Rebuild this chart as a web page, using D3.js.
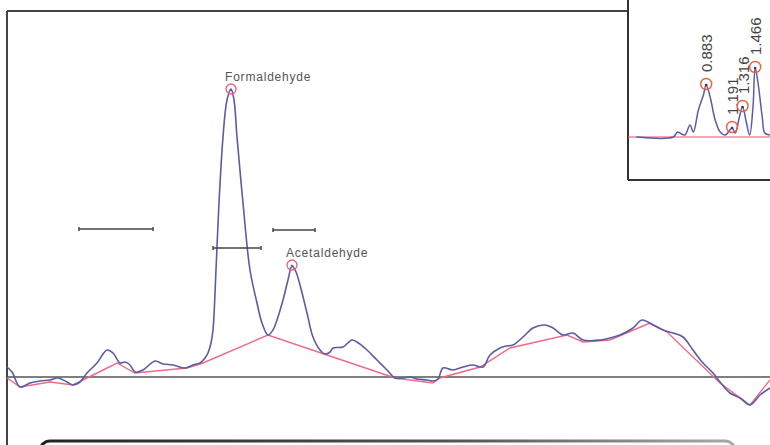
<!DOCTYPE html>
<html>
<head>
<meta charset="utf-8">
<script src="https://cdn.jsdelivr.net/npm/d3@7"></script>
<style>
  body { margin: 0; background: #fff; }
  svg { display: block; font-family: Arial, "Liberation Sans", sans-serif; }
</style>
</head>
<body>
<div id="chart"></div>
<script>
// main chromatogram: time (min) / signal (mAU)
const traceTime = [0.00, 0.05, 0.13, 0.23, 0.33, 0.43, 0.51, 0.60, 0.66, 0.73, 0.80, 0.90, 1.00, 1.06, 1.13, 1.18, 1.23, 1.28, 1.36, 1.48, 1.56, 1.66, 1.78, 1.86, 1.93, 1.98, 2.01, 2.04, 2.06, 2.09, 2.12, 2.16, 2.20, 2.24, 2.27, 2.30, 2.36, 2.43, 2.50, 2.55, 2.61, 2.66, 2.70, 2.76, 2.81, 2.85, 2.89, 2.93, 3.00, 3.06, 3.13, 3.18, 3.23, 3.26, 3.36, 3.45, 3.50, 3.60, 3.70, 3.80, 3.88, 3.96, 4.03, 4.10, 4.20, 4.26, 4.31, 4.36, 4.46, 4.56, 4.66, 4.76, 4.83, 4.93, 4.99, 5.06, 5.16, 5.26, 5.38, 5.46, 5.56, 5.66, 5.76, 5.93, 6.03, 6.13, 6.26, 6.35, 6.46, 6.56, 6.66, 6.76, 6.86, 6.96, 7.06, 7.13, 7.23, 7.33, 7.43, 7.53, 7.63];
const traceSignal = [1.0, 0.5, -1.0, -0.6, -0.4, -0.3, -0.1, -0.5, -0.8, -0.5, 0.4, 1.4, 2.7, 2.4, 1.4, 1.5, 1.2, 0.5, 0.7, 1.6, 1.3, 1.2, 0.9, 1.2, 1.4, 1.9, 2.4, 3.4, 4.7, 10.7, 17.4, 24.0, 27.7, 28.8, 27.7, 24.0, 17.4, 10.7, 7.4, 5.4, 4.2, 4.7, 5.7, 7.7, 9.7, 11.1, 10.5, 9.2, 6.4, 4.0, 2.7, 2.3, 2.5, 2.9, 3.0, 3.7, 3.5, 2.7, 1.7, 0.7, -0.1, -0.1, 0.0, -0.2, -0.3, -0.4, -0.2, 0.9, 0.7, 1.0, 1.2, 1.0, 2.2, 2.9, 3.1, 3.2, 4.0, 4.9, 5.2, 4.9, 4.2, 4.4, 3.7, 3.7, 3.9, 4.2, 4.9, 5.7, 5.2, 4.7, 4.4, 4.0, 2.7, 1.4, 0.4, -0.5, -1.6, -2.1, -2.8, -1.8, -1.1];

// integration baseline drawn by the software
const baseTime = [0.00, 0.13, 0.43, 0.66, 0.80, 1.10, 1.28, 1.80, 1.96, 2.61, 3.20, 3.88, 4.26, 4.33, 4.73, 5.03, 5.60, 5.76, 6.03, 6.43, 6.60, 7.13, 7.43, 7.63];
const baseSignal = [-0.1, -1.0, -0.5, -0.8, -0.1, 1.4, 0.4, 0.9, 1.4, 4.2, 2.2, -0.1, -0.6, -0.1, 1.0, 2.9, 4.2, 3.5, 3.7, 5.4, 4.5, -0.6, -2.8, -0.3];

const peakNames = ["Formaldehyde", "Acetaldehyde"];
const peakTimes = [2.24, 2.85];
const peakHeights = [28.8, 11.2];

// peak windows (start, end, level)
const windowStart = [0.72, 2.06, 2.66];
const windowEnd = [1.46, 2.54, 3.08];
const windowLevel = [14.8, 12.9, 14.7];

// inset chromatogram
const insetTime = [0.05, 0.49, 0.54, 0.57, 0.63, 0.69, 0.73, 0.79, 0.85, 0.883, 0.93, 0.99, 1.05, 1.11, 1.191, 1.23, 1.27, 1.316, 1.36, 1.40, 1.44, 1.466, 1.50, 1.55, 1.58, 1.64];
const insetSignal = [0, 0, 5, 4, 2, 12, 5, 27, 42, 52, 40, 17, 5, 2, 9, 4, 17, 30, 15, 2, 30, 69, 54, 20, 4, 2];
const insetPeakTimes = [0.883, 1.191, 1.316, 1.466];
const insetPeakHeights = [52, 9, 30, 69];
const insetPeakLabels = ["0.883", "1.191", "1.316", "1.466"];

const width = 770;
const height = 445;
const traceColor = "#5b5ba6";
const baseColor = "#ef6a86";
const frameColor = "#444";

const svg = d3.select("#chart").append("svg")
  .attr("width", width)
  .attr("height", height);

const x = d3.scaleLinear().domain([0, 7.63]).range([7, 770]);
const y = d3.scaleLinear().domain([-6.8, 37.7]).range([445, 0]);

const defs = svg.append("defs");
const grad = defs.append("linearGradient").attr("id", "barGrad");
grad.append("stop").attr("offset", "0%").attr("stop-color", "#222");
grad.append("stop").attr("offset", "60%").attr("stop-color", "#555");
grad.append("stop").attr("offset", "100%").attr("stop-color", "#aaa");

// bottom panel edge
svg.append("rect")
  .attr("x", 40).attr("y", 441)
  .attr("width", 695).attr("height", 30)
  .attr("rx", 10)
  .attr("fill", "#fff")
  .attr("stroke", "url(#barGrad)")
  .attr("stroke-width", 3);

// frame
svg.append("line")
  .attr("x1", 7).attr("x2", 7).attr("y1", 11).attr("y2", height)
  .attr("stroke", frameColor).attr("stroke-width", 2);
svg.append("line")
  .attr("x1", 7).attr("x2", 628).attr("y1", 11).attr("y2", 11)
  .attr("stroke", frameColor).attr("stroke-width", 2);

// zero line
svg.append("line")
  .attr("x1", x(0)).attr("x2", x(7.63))
  .attr("y1", y(0)).attr("y2", y(0))
  .attr("stroke", "#555").attr("stroke-width", 1.5);

const baseData = baseTime.map((t, i) => ({ t, v: baseSignal[i] }));
const traceData = traceTime.map((t, i) => ({ t, v: traceSignal[i] }));

svg.append("path")
  .datum(baseData)
  .attr("fill", "none")
  .attr("stroke", baseColor)
  .attr("stroke-width", 1.4)
  .attr("d", d3.line().x(d => x(d.t)).y(d => y(d.v)));

svg.append("path")
  .datum(traceData)
  .attr("fill", "none")
  .attr("stroke", traceColor)
  .attr("stroke-width", 1.6)
  .attr("d", d3.line().curve(d3.curveCatmullRom).x(d => x(d.t)).y(d => y(d.v)));

// peak windows
windowStart.forEach((s, i) => {
  const g = svg.append("g").attr("stroke", "#444").attr("stroke-width", 1.5);
  g.append("line")
    .attr("x1", x(s)).attr("x2", x(windowEnd[i]))
    .attr("y1", y(windowLevel[i])).attr("y2", y(windowLevel[i]));
  [s, windowEnd[i]].forEach(e => {
    g.append("line")
      .attr("x1", x(e)).attr("x2", x(e))
      .attr("y1", y(windowLevel[i]) - 2).attr("y2", y(windowLevel[i]) + 2);
  });
});

// peak markers
peakNames.forEach((name, i) => {
  const px = x(peakTimes[i]);
  const py = y(peakHeights[i]);
  svg.append("circle")
    .attr("cx", px).attr("cy", py).attr("r", 5)
    .attr("fill", "none").attr("stroke", "#e8607a").attr("stroke-width", 1.3);
  svg.append("circle")
    .attr("cx", px).attr("cy", py + 1).attr("r", 1.3)
    .attr("fill", traceColor);
  svg.append("text")
    .attr("x", px - 6).attr("y", py - 8)
    .attr("font-size", 12)
    .attr("letter-spacing", 0.8)
    .attr("fill", "#555")
    .text(name);
});

// inset
const ix = d3.scaleLinear().domain([0, 1.64]).range([632, 769.8]);
const iy = d3.scaleLinear().domain([0, 100]).range([137, 37]);

const inset = svg.append("g");
inset.append("rect")
  .attr("x", 628).attr("y", -5).attr("width", 150).attr("height", 185)
  .attr("fill", "#fff");
inset.append("line")
  .attr("x1", 628).attr("x2", 628).attr("y1", 0).attr("y2", 180)
  .attr("stroke", "#333").attr("stroke-width", 2);
inset.append("line")
  .attr("x1", 628).attr("x2", width).attr("y1", 180).attr("y2", 180)
  .attr("stroke", "#333").attr("stroke-width", 2);
inset.append("line")
  .attr("x1", 628).attr("x2", width).attr("y1", iy(0)).attr("y2", iy(0))
  .attr("stroke", "#e8506a").attr("stroke-width", 1.2);

inset.append("path")
  .datum(insetTime.map((t, i) => ({ t, v: insetSignal[i] })))
  .attr("fill", "none")
  .attr("stroke", traceColor)
  .attr("stroke-width", 1.5)
  .attr("d", d3.line().curve(d3.curveCatmullRom).x(d => ix(d.t)).y(d => iy(d.v)));

insetPeakTimes.forEach((t, i) => {
  const px = ix(t);
  const py = iy(insetPeakHeights[i]);
  inset.append("circle")
    .attr("cx", px).attr("cy", py - 1).attr("r", 5.5)
    .attr("fill", "none").attr("stroke", "#e8603c").attr("stroke-width", 1.4);
  inset.append("circle")
    .attr("cx", px).attr("cy", py).attr("r", 1.3)
    .attr("fill", "#336");
  inset.append("text")
    .attr("transform", `translate(${px + 6},${py - 13}) rotate(-90)`)
    .attr("font-size", 15)
    .attr("fill", "#444")
    .text(insetPeakLabels[i]);
});
</script>
</body>
</html>
